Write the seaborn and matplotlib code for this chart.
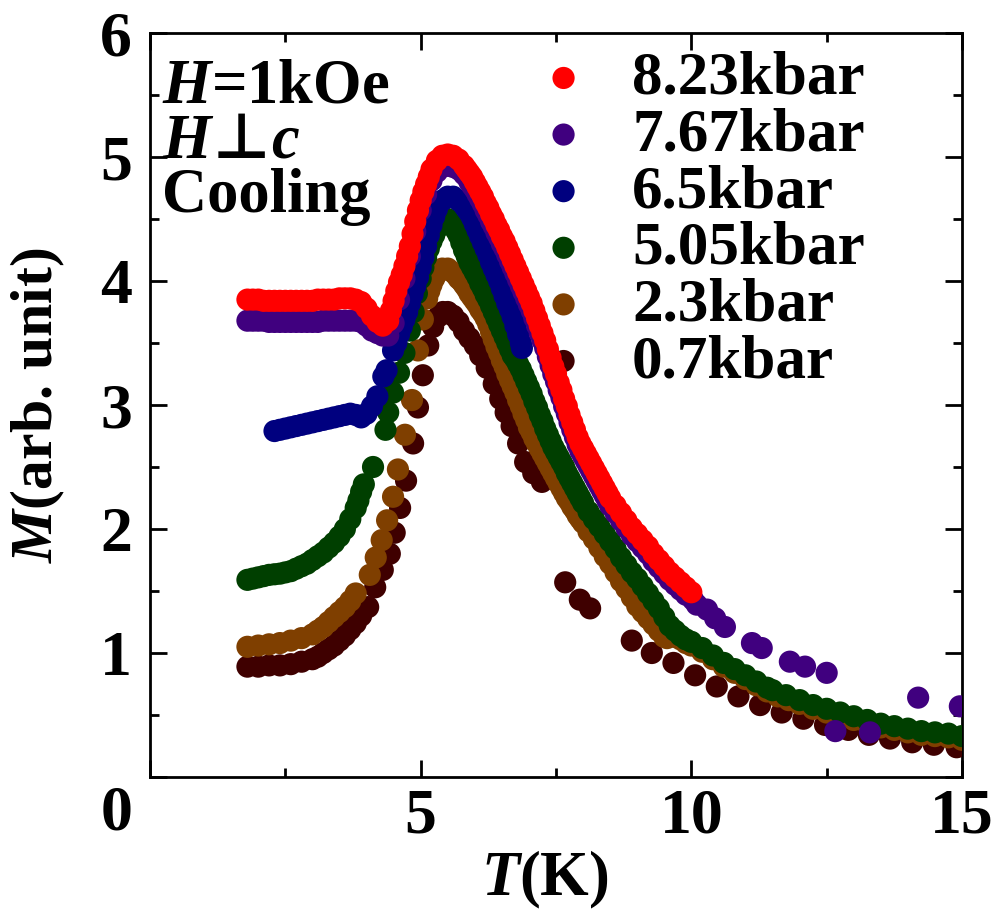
import matplotlib
matplotlib.use("Agg")
import matplotlib.pyplot as plt
import seaborn as sns
import numpy as np
import pandas as pd
from matplotlib.ticker import MultipleLocator

# ---------------- data (T in K, M in arb. unit) ----------------
labels = ["8.23kbar", "7.67kbar", "6.5kbar", "5.05kbar", "2.3kbar", "0.7kbar"]
colors = ["#FF0000", "#40007F", "#00007F", "#003F00", "#7F3F00", "#3F0000"]

p823 = [(1.8,3.85),(1.9,3.85),(2.0,3.85),(2.1,3.84),(2.2,3.84),(2.3,3.84),(2.4,3.84),(2.5,3.84),
        (2.6,3.84),(2.7,3.84),(2.8,3.84),(2.9,3.84),(3.0,3.84),(3.1,3.85),(3.2,3.85),(3.3,3.85),
        (3.4,3.85),(3.5,3.86),(3.6,3.86),(3.7,3.86),(3.8,3.85),(3.9,3.83),(4.0,3.78),(4.1,3.72),
        (4.2,3.67),(4.3,3.64),(4.4,3.68),(4.5,3.84),(4.6,3.99),(4.7,4.12),(4.8,4.28),(4.9,4.48),
        (5.0,4.65),(5.1,4.78),(5.2,4.90),(5.3,4.97),(5.4,5.01),(5.5,5.02),(5.6,5.01),(5.7,4.98),
        (5.8,4.93),(5.9,4.87),(6.0,4.80),(6.1,4.72),(6.2,4.63),(6.3,4.54),(6.4,4.45),(6.5,4.36),
        (6.6,4.27),(6.7,4.17),(6.8,4.07),(6.9,3.97),(7.0,3.87),(7.1,3.76),(7.2,3.64),(7.3,3.52),
        (7.4,3.38),(7.5,3.25),(7.6,3.12),(7.7,2.99),(7.8,2.86),(7.9,2.74),(8.0,2.65),(8.1,2.57),
        (8.2,2.49),(8.3,2.41),(8.4,2.33),(8.5,2.25),(8.6,2.19),(8.7,2.13),(8.8,2.07),(8.9,2.01),
        (9.0,1.96),(9.1,1.91),(9.2,1.86),(9.3,1.80),(9.4,1.75),(9.5,1.70),(9.6,1.65),(9.7,1.61),
        (9.8,1.57),(9.9,1.53),(10.0,1.49)]
p823_fine = [(4.45,3.76),(4.55,3.92),(4.65,4.05),(4.75,4.20),(4.85,4.38),(4.95,4.57),(5.05,4.72),
             (5.15,4.84),(5.85,4.90),(5.95,4.84),(6.05,4.76),(6.15,4.68),(6.25,4.59),(6.35,4.50),
             (6.45,4.41),(6.55,4.32),(6.65,4.22),(6.75,4.12),(6.85,4.02),(6.95,3.92),(7.05,3.82),
             (7.15,3.70),(7.25,3.58),(7.35,3.45),(7.45,3.31),(7.55,3.18),(7.65,3.05),(7.75,2.92),
             (7.85,2.80),(7.95,2.69),(8.05,2.61),(8.15,2.53),(8.25,2.45),(8.35,2.37),(8.45,2.29)]

p767 = [(1.8,3.68),(1.9,3.68),(2.0,3.68),(2.1,3.68),(2.2,3.67),(2.3,3.67),(2.4,3.67),(2.5,3.67),
        (2.6,3.67),(2.7,3.67),(2.8,3.67),(2.9,3.67),(3.0,3.67),(3.1,3.67),(3.2,3.68),(3.3,3.68),
        (3.4,3.68),(3.5,3.68),(3.6,3.68),(3.7,3.68),(3.8,3.68),(3.9,3.67),(4.0,3.64),(4.1,3.60),
        (4.2,3.58),(4.3,3.56),(4.4,3.56),(4.5,3.66),(4.6,3.85),(4.7,4.02),(4.8,4.20),(4.9,4.40),
        (5.0,4.57),(5.1,4.70),(5.2,4.81),(5.3,4.88),(5.4,4.92),(5.5,4.93),(5.6,4.92),(5.7,4.90),
        (5.8,4.86),(5.9,4.80),(6.0,4.74),(6.1,4.66),(6.2,4.57),(6.3,4.48),(6.4,4.39),(6.5,4.30),
        (6.6,4.21),(6.7,4.11),(6.8,4.01),(6.9,3.91),(7.0,3.81),(7.1,3.70),(7.2,3.58),(7.3,3.46),
        (7.4,3.32),(7.5,3.19),(7.6,3.06),(7.7,2.93),(7.8,2.80),(7.9,2.68),(8.0,2.59),(8.1,2.51),
        (8.2,2.43),(8.3,2.35),(8.4,2.27),(8.5,2.19),(8.6,2.13),(8.7,2.07),(8.8,2.01),(8.9,1.95),
        (9.0,1.90),(9.1,1.85),(9.2,1.80),(9.3,1.74),(9.4,1.69),(9.5,1.64),(9.6,1.59),(9.7,1.55),
        (9.8,1.51),(9.9,1.47),(10.03,1.43),(10.1,1.39),(10.29,1.35),(10.44,1.28),(10.62,1.21),
        (11.12,1.08),(11.3,1.04),(11.82,0.93),(12.1,0.89),(12.5,0.84),(12.66,0.37),(13.3,0.36),
        (14.19,0.64),(14.96,0.57)]
p767_fine = [(5.85,4.84),(5.95,4.77),(6.05,4.70),(6.15,4.62),(6.25,4.53),(6.35,4.44),(6.45,4.35),
             (6.55,4.26),(6.65,4.16),(6.75,4.06),(6.85,3.96),(6.95,3.86),(7.05,3.76),(7.15,3.64),
             (7.25,3.52),(7.35,3.39),(7.45,3.25),(7.55,3.12),(7.65,2.99),(7.75,2.86),(7.85,2.74),
             (7.95,2.63),(8.05,2.55),(8.15,2.47),(8.25,2.39),(8.35,2.31),(8.45,2.23)]

p65 = [(2.3,2.79),(2.4,2.80),(2.5,2.81),(2.6,2.82),(2.7,2.83),(2.8,2.84),(2.9,2.85),(3.0,2.86),
       (3.1,2.87),(3.2,2.88),(3.3,2.89),(3.4,2.90),(3.5,2.91),(3.6,2.92),(3.7,2.93),(3.8,2.92),
       (3.9,2.90),(4.0,2.93),(4.1,2.99),(4.2,3.07),(4.31,3.23),(4.37,3.28),(4.49,3.44),(4.6,3.57),
       (4.7,3.69),(4.8,3.82),(4.9,3.96),(5.0,4.11),(5.1,4.28),(5.2,4.45),(5.3,4.58),(5.4,4.65),
       (5.5,4.68),(5.6,4.68),(5.7,4.65),(5.8,4.61),(5.9,4.55),(6.0,4.46),(6.1,4.36),(6.2,4.26),
       (6.3,4.15),(6.4,4.05),(6.5,3.94),(6.6,3.82),(6.7,3.71),(6.8,3.57),(6.87,3.46)]
p65_fine = [(4.55,3.50),(4.65,3.63),(4.75,3.75),(4.85,3.89),(4.95,4.03),(5.05,4.19),(5.15,4.37),
            (5.25,4.52),(5.85,4.58),(5.95,4.51),(6.05,4.41),(6.15,4.31),(6.25,4.21),(6.35,4.10),
            (6.45,4.00),(6.55,3.88),(6.65,3.77),(6.75,3.64),(6.85,3.50)]

p505 = [(1.8,1.59),(1.9,1.60),(2.0,1.61),(2.1,1.62),(2.2,1.63),(2.3,1.635),(2.4,1.64),(2.5,1.65),
        (2.6,1.66),(2.7,1.68),(2.8,1.70),(2.9,1.72),(3.0,1.75),(3.1,1.78),(3.2,1.81),(3.3,1.85),
        (3.4,1.89),(3.5,1.94),(3.6,2.00),(3.7,2.08),(3.8,2.17),(3.85,2.23),(3.9,2.30),(3.95,2.36),
        (4.12,2.50),(4.35,2.80),(4.4,2.94),(4.49,3.10),(4.6,3.26),(4.7,3.42),(4.8,3.60),(4.87,3.75),
        (4.93,3.90),(5.0,4.02),(5.1,4.19),(5.2,4.32),(5.3,4.42),(5.4,4.49),(5.5,4.50),(5.6,4.45),
        (5.7,4.37),(5.8,4.25),(5.9,4.15),(6.0,4.07),(6.1,3.98),(6.2,3.89),(6.3,3.80),(6.4,3.70),
        (6.5,3.60),(6.6,3.50),(6.7,3.40),(6.8,3.33),(6.9,3.24),(7.0,3.14),(7.1,3.03),(7.2,2.92),
        (7.3,2.81),(7.4,2.71),(7.5,2.62),(7.6,2.54),(7.7,2.45),(7.8,2.37),(7.9,2.29),(8.0,2.21),
        (8.1,2.14),(8.2,2.08),(8.3,2.02),(8.4,1.96),(8.5,1.90),(8.6,1.84),(8.7,1.77),(8.8,1.71),
        (8.9,1.65),(9.0,1.60),(9.1,1.54),(9.2,1.48),(9.3,1.42),(9.4,1.36),(9.5,1.29),(9.6,1.22),
        (9.7,1.18),(9.8,1.14),(9.9,1.11),(10.0,1.09),(10.2,1.04),(10.4,0.98),(10.6,0.92),(10.8,0.87),
        (11.0,0.82),(11.2,0.77),(11.4,0.72),(11.5,0.70),(11.75,0.66),(12.0,0.62),(12.25,0.58),
        (12.5,0.55),(12.75,0.52),(13.0,0.49),(13.25,0.46),(13.5,0.43),(13.75,0.41),(14.0,0.39),
        (14.25,0.37),(14.5,0.36),(14.75,0.35),(15.0,0.33)]
p505_fine = [(5.05,4.11),(5.15,4.26),(5.25,4.37),(5.35,4.46),(5.65,4.41),(5.75,4.31),(5.85,4.20),
             (5.95,4.11),(6.05,4.03),(6.15,3.94),(6.25,3.85),(6.35,3.75),(6.45,3.65),(6.55,3.55),
             (6.65,3.45),(6.75,3.37),(6.85,3.29),(6.95,3.19),(7.05,3.09),(7.15,2.98),(7.25,2.87),
             (7.35,2.76),(7.45,2.66),(7.55,2.58),(7.65,2.50),(7.75,2.41),(7.85,2.33),(7.95,2.25)]

p23 = [(1.8,1.05),(2.0,1.06),(2.2,1.07),(2.4,1.08),(2.6,1.10),(2.8,1.12),(3.0,1.15),(3.1,1.18),
       (3.2,1.21),(3.3,1.25),(3.4,1.29),(3.5,1.33),(3.6,1.37),(3.7,1.42),(3.8,1.48),(4.06,1.63),
       (4.17,1.77),(4.28,1.91),(4.38,2.07),(4.49,2.26),(4.58,2.48),(4.71,2.76),(4.84,3.04),
       (4.95,3.44),(5.04,3.69),(5.12,3.86),(5.2,3.97),(5.3,4.06),(5.4,4.10),(5.5,4.10),(5.6,4.07),
       (5.7,4.02),(5.8,3.97),(5.9,3.90),(6.0,3.84),(6.1,3.77),(6.2,3.70),(6.3,3.59),(6.4,3.47),
       (6.5,3.36),(6.6,3.25),(6.7,3.15),(6.8,3.04),(6.9,2.93),(7.0,2.82),(7.1,2.73),(7.2,2.65),
       (7.3,2.57),(7.4,2.49),(7.5,2.41),(7.6,2.33),(7.7,2.25),(7.8,2.18),(7.9,2.11),(8.0,2.05),
       (8.1,1.98),(8.2,1.92),(8.3,1.85),(8.4,1.78),(8.5,1.72),(8.6,1.65),(8.7,1.58),(8.8,1.52),
       (8.9,1.45),(9.0,1.38),(9.1,1.33),(9.2,1.28),(9.3,1.23),(9.4,1.18),(9.5,1.13),(9.55,1.12),
       (9.7,1.13),(9.8,1.11),(9.9,1.08),(10.0,1.06),(10.2,1.01),(10.4,0.95),(10.6,0.89),(10.8,0.84),
       (11.0,0.79),(11.2,0.74),(11.4,0.69),(11.6,0.65),(11.8,0.62),(12.0,0.59),(12.25,0.55),
       (12.5,0.52),(12.75,0.49),(13.0,0.46),(13.25,0.43),(13.5,0.40),(13.75,0.38),(14.0,0.36),
       (14.25,0.34),(14.5,0.33),(14.75,0.32),(15.0,0.30)]
p23_fine = [(5.16,3.92),(5.25,4.02),(5.35,4.08),(5.65,4.05),(5.75,4.00),(5.85,3.94),(5.95,3.87),
            (6.05,3.81),(6.15,3.74),(6.25,3.65),(6.35,3.53),(6.45,3.42),(6.55,3.31),(6.65,3.20),
            (6.75,3.10),(6.85,2.99),(6.95,2.88),(7.05,2.78),(7.15,2.69),(7.25,2.61),(7.35,2.53),
            (7.45,2.45),(7.55,2.37),(7.65,2.29),(7.75,2.22),(7.85,2.15),(7.95,2.08)]

p07 = [(1.8,0.89),(2.0,0.89),(2.2,0.90),(2.4,0.90),(2.6,0.91),(2.8,0.93),(3.0,0.95),(3.1,0.97),
       (3.2,1.00),(3.3,1.03),(3.4,1.06),(3.5,1.10),(3.6,1.14),(3.7,1.19),(3.8,1.24),(3.9,1.30),
       (4.03,1.37),(4.16,1.53),(4.3,1.67),(4.43,1.80),(4.52,1.97),(4.62,2.17),(4.73,2.39),
       (4.86,2.69),(4.95,2.98),(5.04,3.24),(5.14,3.48),(5.23,3.63),(5.32,3.71),(5.41,3.75),
       (5.5,3.75),(5.6,3.72),(5.7,3.67),(5.8,3.60),(5.9,3.54),(6.0,3.48),(6.1,3.40),(6.22,3.30),
       (6.35,3.17),(6.47,3.05),(6.57,2.94),(6.68,2.83),(6.8,2.69),(6.93,2.54),(7.08,2.45),
       (7.24,2.38),(7.67,1.57),(7.94,1.43),(8.13,1.36),(8.9,1.10),(9.27,1.00),(9.67,0.92),
       (10.07,0.82),(10.47,0.73),(10.87,0.65),(11.27,0.58),(11.67,0.52),(12.07,0.47),(12.47,0.42),
       (12.9,0.38),(13.28,0.34),(13.67,0.31),(14.08,0.28),(14.48,0.26),(14.9,0.24)]
p07_fine = []

series = [p823 + p823_fine, p767 + p767_fine, p65 + p65_fine,
          p505 + p505_fine, p23 + p23_fine, p07 + p07_fine]

# ---------------- style ----------------
sns.set_style("ticks")
plt.rcParams["font.family"] = ["Liberation Serif", "DejaVu Serif"]
plt.rcParams["font.weight"] = "bold"
plt.rcParams["axes.labelweight"] = "bold"
for key in ["text.color", "axes.labelcolor", "xtick.color", "ytick.color", "axes.edgecolor"]:
    plt.rcParams[key] = "black"
plt.rcParams["mathtext.fontset"] = "custom"
plt.rcParams["mathtext.rm"] = "Liberation Serif:bold"
plt.rcParams["mathtext.it"] = "Liberation Serif:italic:bold"
plt.rcParams["mathtext.bf"] = "DejaVu Sans:bold"
plt.rcParams["mathtext.fallback"] = "stix"

fig = plt.figure(figsize=(9.97, 9.10), dpi=100)
W, H = 997, 910
ax = fig.add_axes([150 / W, 1 - 777 / H, 812 / W, 744 / H])

# draw lowest pressure first so that the higher-pressure curves lie on top
for i in reversed(range(len(series))):
    df = pd.DataFrame(series[i], columns=["T", "M"]).sort_values("T")
    sns.scatterplot(data=df, x="T", y="M", color=colors[i], s=255, linewidth=0,
                    edgecolor="none", label=labels[i], ax=ax, zorder=3 + (len(series) - i))

ax.set_xlim(0, 15)
ax.set_ylim(0, 6)
ax.set_xticks([0, 5, 10, 15])
ax.set_xticklabels(["", "5", "10", "15"])
ax.set_yticks([0, 1, 2, 3, 4, 5, 6])
ax.set_yticklabels(["", "1", "2", "3", "4", "5", "6"])
ax.xaxis.set_minor_locator(MultipleLocator(2.5))
ax.yaxis.set_minor_locator(MultipleLocator(0.5))
ax.tick_params(which="both", direction="in", top=True, right=True, width=2, colors="black")
ax.tick_params(which="major", length=12, labelsize=46)
ax.tick_params(axis="x", which="major", pad=8.5)
ax.tick_params(axis="y", which="major", pad=13)
ax.tick_params(which="minor", length=6.5)
for sp in ax.spines.values():
    sp.set_linewidth(2)
    sp.set_color("black")

ax.annotate("0", xy=(0, 0), xycoords="data", xytext=(-23.8, -38), textcoords="offset points",
            ha="center", va="baseline", fontsize=46, annotation_clip=False)

ax.set_xlabel(r"$\mathit{T}$(K)", fontsize=45)
ax.xaxis.set_label_coords(0.486, -0.097)
ax.set_ylabel(r"$\mathit{M}$(arb. unit)", fontsize=43, labelpad=24)

ax.text(0.0148, 0.907, r"$\mathit{H}$=1kOe", transform=ax.transAxes, fontsize=45,
        ha="left", va="baseline")
ax.text(0.0148, 0.833, r"$\mathit{H}\!\mathbf{\bot}\!\mathit{c}$", transform=ax.transAxes,
        fontsize=45, ha="left", va="baseline")
ax.text(0.0148, 0.759, "Cooling", transform=ax.transAxes, fontsize=45,
        ha="left", va="baseline")

handles, labs = ax.get_legend_handles_labels()
order = [labs.index(l) for l in labels]
ax.legend([handles[k] for k in order], [labs[k] for k in order], loc="upper left",
          bbox_to_anchor=(533 / W, 1 - 51 / H), bbox_transform=fig.transFigure,
          frameon=False, fontsize=44, handlelength=1.0, handletextpad=0.62,
          labelspacing=0.01, borderpad=0, borderaxespad=0, scatterpoints=1)

fig.savefig("out.png", dpi=100)
